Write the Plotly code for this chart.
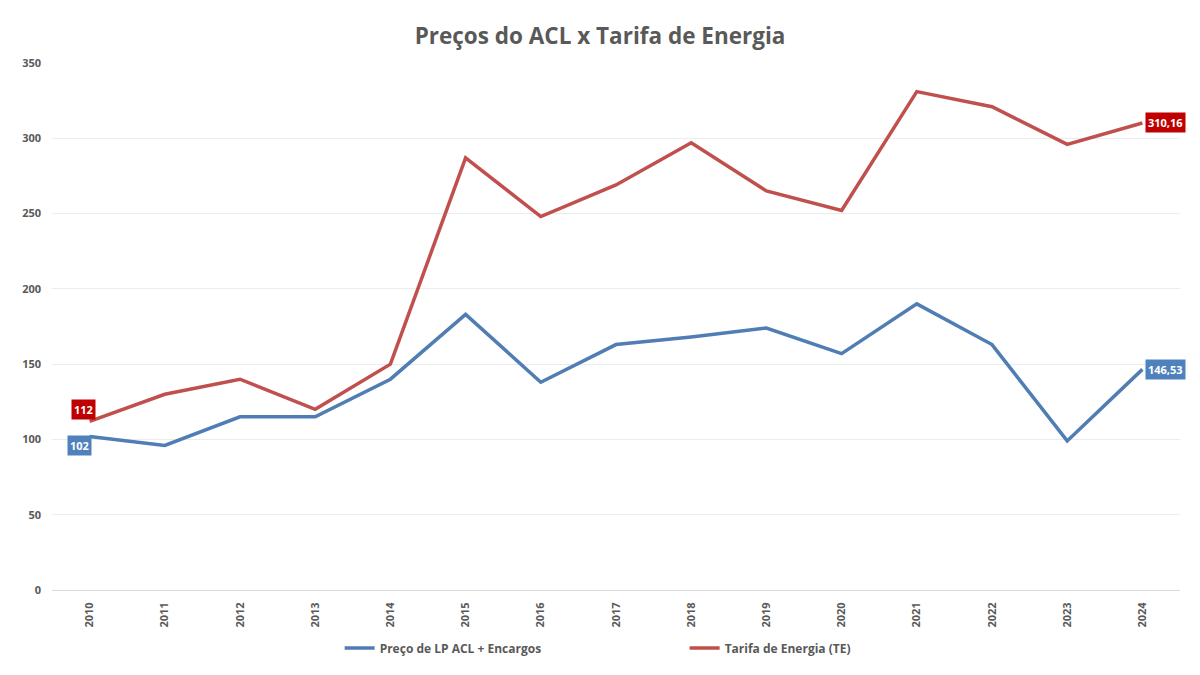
import plotly.graph_objects as go

# Dados
anos = [str(a) for a in range(2010, 2025)]
preco_lp_acl = [102, 96, 115, 115, 140, 183, 138, 163, 168, 174, 157, 190, 163, 99, 146.53]
tarifa_te = [112, 130, 140, 120, 150, 287, 248, 269, 297, 265, 252, 331, 321, 296, 310.16]
y_ticks = [0, 50, 100, 150, 200, 250, 300, 350]

azul = "#4F7DB4"
vermelho = "#C0504D"
cinza = "#595959"
fonte = "Open Sans"


def fmt(v):
    # formato brasileiro: virgula decimal
    if v == int(v):
        return str(int(v))
    return ("%.2f" % v).replace(".", ",")


fig = go.Figure()
fig.add_trace(go.Scatter(x=anos, y=preco_lp_acl, mode="lines", name="Preço de LP ACL + Encargos",
                         line=dict(color=azul, width=3.5)))
fig.add_trace(go.Scatter(x=anos, y=tarifa_te, mode="lines", name="Tarifa de Energia (TE)",
                         line=dict(color=vermelho, width=3.5)))

# Rótulos de dados (primeiro e último ponto) -- x como índice da categoria
ult = len(anos) - 1
rotulos = [
    (0, preco_lp_acl[0], "#4F81BD", -10, -9),
    (ult, preco_lp_acl[ult], "#4F81BD", 23, 0),
    (0, tarifa_te[0], "#C00000", -6, 12),
    (ult, tarifa_te[ult], "#C00000", 23, 0),
]
for x, y, cor, dx, dy in rotulos:
    fig.add_annotation(x=x, y=y, xref="x", yref="y", text=fmt(y), showarrow=False,
                       xshift=dx, yshift=dy, bgcolor=cor, borderpad=2,
                       font=dict(family=fonte, size=11, color="white", weight="bold"))

fig.update_layout(
    width=1200, height=675,
    margin=dict(l=52, r=20, t=63, b=83),
    paper_bgcolor="white", plot_bgcolor="white",
    title=dict(text="Preços do ACL x Tarifa de Energia", x=0.5, xanchor="center",
               y=0.946, yanchor="middle",
               font=dict(family=fonte, size=22.5, color=cinza, weight="bold")),
    xaxis=dict(type="category", range=[-0.5, 14.5], tickangle=-90, automargin=False,
               tickfont=dict(family=fonte, size=11, color=cinza, weight="bold"), showgrid=False,
               showline=True, linecolor="#d9d9d9", linewidth=1, ticks="",
               ticklabelstandoff=7),
    yaxis=dict(range=[0, 350], tickvals=y_ticks, showgrid=True, gridcolor="#ececec",
               gridwidth=1, zeroline=False, ticks="", automargin=False,
               tickfont=dict(family=fonte, size=11, color=cinza, weight="bold"),
               ticklabelstandoff=10),
    legend=dict(orientation="h", x=0.255, xanchor="left", y=-0.11, yanchor="middle",
                entrywidth=300, entrywidthmode="pixels",
                font=dict(family=fonte, size=12, color=cinza, weight="bold")),
    showlegend=True,
)

# tira a margem padrão do body para a figura ocupar a janela inteira
fig.write_html("out.html", config={"displayModeBar": False},
               post_script="document.body.style.margin='0';")
